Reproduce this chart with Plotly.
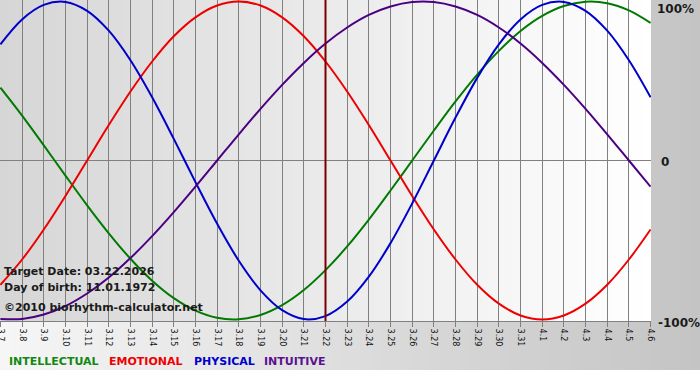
import plotly.graph_objects as go

# ---- data (percent) ----
day_labels = ["3.7", "3.8", "3.9", "3.10", "3.11", "3.12", "3.13", "3.14", "3.15", "3.16",
              "3.17", "3.18", "3.19", "3.20", "3.21", "3.22", "3.23", "3.24", "3.25", "3.26",
              "3.27", "3.28", "3.29", "3.30", "3.31", "4.1", "4.2", "4.3", "4.4", "4.5", "4.6"]
physical = [73.1, 88.8, 97.9, 99.8, 94.2, 81.7, 63.1, 39.8, 13.6, -13.6, -39.8, -63.1, -81.7,
            -94.2, -99.8, -97.9, -88.8, -73.1, -52.0, -27.0, 0.0, 27.0, 52.0, 73.1, 88.8, 97.9,
            99.8, 94.2, 81.7, 63.1, 39.8]
emotional = [-78.2, -62.3, -43.4, -22.3, 0.0, 22.3, 43.4, 62.3, 78.2, 90.1, 97.5, 100.0, 97.5,
             90.1, 78.2, 62.3, 43.4, 22.3, 0.0, -22.3, -43.4, -62.3, -78.2, -90.1, -97.5, -100.0,
             -97.5, -90.1, -78.2, -62.3, -43.4]
intellectual = [45.8, 28.2, 9.5, -9.5, -28.2, -45.8, -61.8, -75.6, -86.6, -94.5, -99.0, -99.9,
                -97.2, -91.0, -81.5, -69.0, -54.1, -37.2, -18.9, 0.0, 18.9, 37.2, 54.1, 69.0,
                81.5, 91.0, 97.2, 99.9, 99.0, 94.5, 86.6]
intuitive = [-99.7, -99.7, -96.9, -91.6, -83.7, -73.6, -61.4, -47.6, -32.5, -16.5, 0.0, 16.5,
             32.5, 47.6, 61.4, 73.6, 83.7, 91.6, 96.9, 99.7, 99.7, 96.9, 91.6, 83.7, 73.6, 61.4,
             47.6, 32.5, 16.5, 0.0, -16.5]
target_label = "3.22"
y_labels = ["100%", "0", "-100%"]
info_lines = ["Target Date: 03.22.2026", "Day of birth: 11.01.1972", "©2010 biorhythm-calculator.net"]
legend_names = ["INTELLECTUAL", "EMOTIONAL", "PHYSICAL", "INTUITIVE"]

# ---- geometry ----
W, H = 700, 380
L, R, T, B = 0, 49, 0, 59
PW, PH = W - L - R, H - T - B

def px_x(px):
    return (px - L) / PW

def px_y(py):
    return (PH - (py - T)) / PH

xs = list(range(len(day_labels)))
span = len(day_labels) - 1
XPAD = 0.02

fig = go.Figure()
series = [
    (intellectual, "#007a00"),
    (emotional, "#ee0000"),
    (physical, "#0000cc"),
    (intuitive, "#4b0082"),
]
for vals, col in series:
    fig.add_trace(go.Scatter(x=xs, y=vals, mode="lines",
                             line=dict(color=col, width=2, shape="spline", smoothing=1.0),
                             hoverinfo="skip", showlegend=False))

shapes = []
# page background gradient (light left -> gray right), down to y=370
n = 70
for i in range(n):
    x0 = i * W / n
    x1 = (i + 1) * W / n + 0.6
    t = (i + 0.5) / n
    c = int(round(246 + (196 - 246) * t))
    shapes.append(dict(type="rect", xref="paper", yref="paper",
                       x0=px_x(x0), x1=px_x(x1), y0=px_y(370), y1=px_y(0),
                       fillcolor=f"rgb({c},{c},{c})", line=dict(width=0), layer="below"))
# plot area gradient (gray left -> white right)
m = 80
for i in range(m):
    x0 = -XPAD + i * (span + 2 * XPAD) / m
    x1 = -XPAD + (i + 1) * (span + 2 * XPAD) / m + 0.03
    t = (i + 0.5) / m
    c = int(round(214 + (255 - 214) * t))
    shapes.append(dict(type="rect", xref="x", yref="y",
                       x0=x0, x1=min(x1, span + XPAD), y0=-101, y1=101,
                       fillcolor=f"rgb({c},{c},{c})", line=dict(width=0), layer="below"))
# target day marker
ti = day_labels.index(target_label)
shapes.append(dict(type="line", xref="x", yref="y", x0=ti, x1=ti, y0=-101, y1=101,
                   line=dict(color="#7a0000", width=2), layer="above"))

annotations = []
info_py = [271, 287, 307]
for txt, py in zip(info_lines, info_py):
    annotations.append(dict(text=txt, xref="paper", yref="paper", x=px_x(2), y=px_y(py),
                            xanchor="left", yanchor="middle", showarrow=False,
                            font=dict(family="DejaVu Sans", size=11, color="#1a1a1a", weight="bold")))
# right labels
for txt, px, py in zip(y_labels, [655, 659, 656], [9, 162, 323]):
    annotations.append(dict(text=txt, xref="paper", yref="paper", x=px_x(px), y=px_y(py),
                            xanchor="left", yanchor="middle", showarrow=False,
                            font=dict(family="DejaVu Sans", size=12, color="#1a1a1a", weight="bold")))
# bottom legend
leg_cols = ["#118811", "#ee0000", "#0000cc", "#5a1090"]
leg_px = [7, 107, 192, 262]
for txt, col, px in zip(legend_names, leg_cols, leg_px):
    annotations.append(dict(text=txt, xref="paper", yref="paper", x=px_x(px), y=px_y(362),
                            xanchor="left", yanchor="middle", showarrow=False,
                            font=dict(family="DejaVu Sans", size=11, color=col, weight="bold")))

fig.update_layout(
    width=W, height=H,
    margin=dict(l=L, r=R, t=T, b=B, pad=0, autoexpand=False),
    paper_bgcolor="#ffffff",
    plot_bgcolor="rgba(0,0,0,0)",
    shapes=shapes,
    annotations=annotations,
    showlegend=False,
    xaxis=dict(range=[-XPAD, span + XPAD], tickmode="array", tickvals=xs, ticktext=day_labels,
               tickangle=90, ticks="outside", ticklen=5, tickcolor="#808080",
               ticklabeloverflow="allow", automargin=False,
               showgrid=True, gridcolor="#808080", gridwidth=1,
               showline=True, linecolor="#808080", linewidth=1,
               zeroline=False, fixedrange=True,
               tickfont=dict(family="DejaVu Sans", size=8, color="#111111")),
    yaxis=dict(range=[-101, 101], tickmode="array", tickvals=[0], showticklabels=False,
               automargin=False,
               showgrid=True, gridcolor="#808080", gridwidth=1, zeroline=False,
               showline=False, fixedrange=True),
)

fig.write_html("out.html", config={"displayModeBar": False},
               post_script="document.body.style.margin='0';document.body.style.padding='0';")
